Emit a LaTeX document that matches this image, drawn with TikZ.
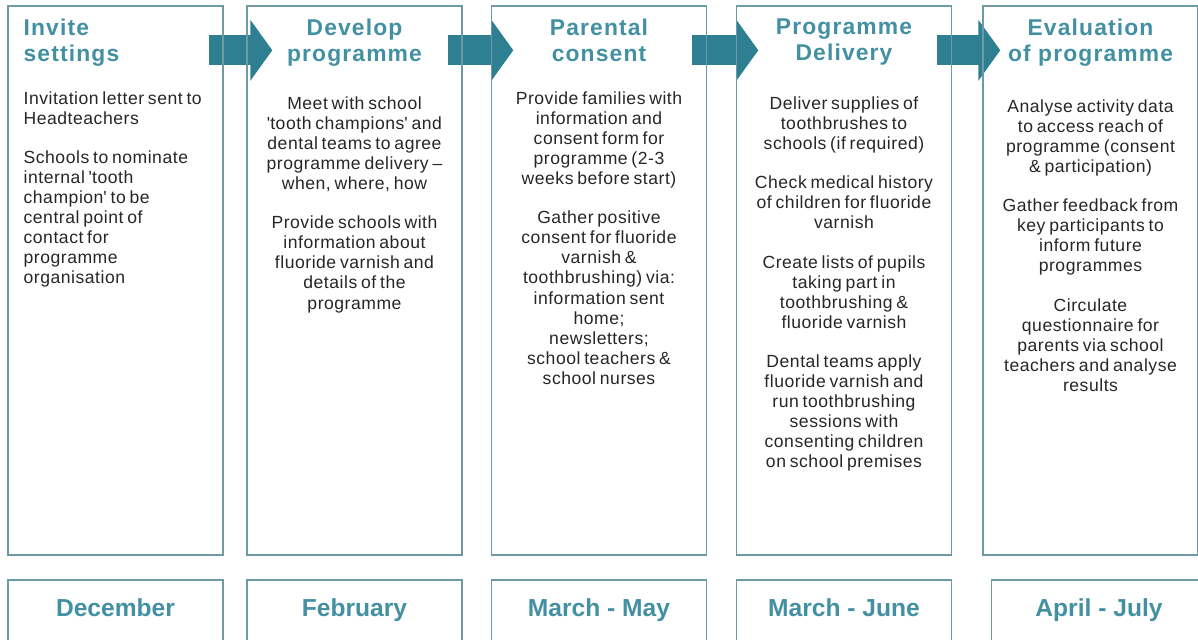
\documentclass[tikz,border=0pt]{standalone}
\usepackage{fontspec}
\setmainfont{Liberation Sans}
\newfontfamily\headfont[LetterSpace=5]{Liberation Sans}
\newfontfamily\taskfont[LetterSpace=3,WordSpace=0.7]{Liberation Sans}
\usetikzlibrary{positioning,calc,arrows.meta,backgrounds}

\definecolor{edge}{HTML}{6E9AA6}
\definecolor{teal}{HTML}{2F7F93}
\definecolor{head}{HTML}{4290A2}
\definecolor{ink}{HTML}{262626}

\begin{document}
\begin{tikzpicture}[
   stage/.style={rectangle,draw=edge,line width=0.8pt,minimum width=4.3cm,
    minimum height=10.98cm,inner sep=0pt},
   month/.style={rectangle,draw=edge,line width=0.8pt,minimum width=4.3cm,
    minimum height=1.22cm,inner sep=0pt,text=head,
    font=\fontsize{14pt}{16pt}\selectfont\bfseries,
    text height=0.35cm,text depth=0.1cm},
   title/.style={inner sep=0pt,text=head,align=center,
    font=\headfont\fontsize{13pt}{14.8pt}\selectfont\bfseries},
   body/.style={inner sep=0pt,text=ink,align=center,
    font=\taskfont\fontsize{10pt}{11.4pt}\selectfont},
   flow/.style={draw=teal,line width=0.6cm,
    -{Triangle[width=1.2cm,length=0.44cm]}}
    ]

    \useasboundingbox (0,0) rectangle (23.96,12.78);

    % Stages:
    \node[stage] at (2.31,7.17) (s1) {};
    \node[stage] at (7.09,7.17) (s2) {};
    \node[stage] at (11.98,7.17) (s3) {};
    \node[stage] at (16.88,7.17) (s4) {};
    \node[stage] at (21.81,7.17) (s5) {};

    % Titles:
    \node[title,align=left,anchor=north west,below right=0.27cm and 0.32cm of s1.north west] (t1) {Invite\\settings};
    \node[title,anchor=north,below=0.27cm of s2.north] (t2) {Develop\\programme};
    \node[title,anchor=north,below=0.27cm of s3.north] (t3) {Parental\\consent};
    \node[title,anchor=north,below=0.27cm of s4.north] (t4) {Programme\\Delivery};
    \node[title,anchor=north,below=0.27cm of s5.north] (t5) {Evaluation\\of programme};

    % Tasks:
    \node[body,align=left,anchor=north west,below right=1.72cm and 0.32cm of s1.north west] (d1)
      {Invitation letter sent to\\Headteachers\\[11pt]
       Schools to nominate\\internal \textquotesingle tooth\\champion\textquotesingle{} to be\\
       central point of\\contact for\\programme\\organisation};
    \node[body,below=1.82cm of s2.north] (d2)
      {Meet with school\\\textquotesingle tooth champions\textquotesingle{} and\\dental teams to agree\\
       programme delivery –\\when, where, how\\[11pt]
       Provide schools with\\information about\\fluoride varnish and\\details of the\\programme};
    \node[body,below=1.72cm of s3.north] (d3)
      {Provide families with\\information and\\consent form for\\programme (2-3\\
       weeks before start)\\[11pt]
       Gather positive\\consent for fluoride\\varnish \&\\toothbrushing) via:\\
       information sent\\home;\\newsletters;\\school teachers \&\\school nurses};
    \node[body,below=1.82cm of s4.north] (d4)
      {Deliver supplies of\\toothbrushes to\\schools (if required)\\[11pt]
       Check medical history\\of children for fluoride\\varnish\\[11pt]
       Create lists of pupils\\taking part in\\toothbrushing \&\\fluoride varnish\\[11pt]
       Dental teams apply\\fluoride varnish and\\run toothbrushing\\sessions with\\
       consenting children\\on school premises};
    \node[body,below=1.88cm of s5.north] (d5)
      {Analyse activity data\\to access reach of\\programme (consent\\\& participation)\\[11pt]
       Gather feedback from\\key participants to\\inform future\\programmes\\[11pt]
       Circulate\\questionnaire for\\parents via school\\teachers and analyse\\results};

    % Months:
    \node[month] at (2.31,0.57) (m1) {December};
    \node[month] at (7.09,0.57) (m2) {February};
    \node[month] at (11.98,0.57) (m3) {March - May};
    \node[month] at (16.88,0.57) (m4) {March - June};
    \node[month] at (21.98,0.57) (m5) {April - July};

    % arrows

    \begin{scope}[on background layer]
    \draw[flow] ($(s1.north east)+(-0.3,-0.9)$) -- ($(s2.north west)+(0.52,-0.9)$);
    \draw[flow] ($(s2.north east)+(-0.3,-0.9)$) -- ($(s3.north west)+(0.45,-0.9)$);
    \draw[flow] ($(s3.north east)+(-0.3,-0.9)$) -- ($(s4.north west)+(0.45,-0.9)$);
    \draw[flow] ($(s4.north east)+(-0.3,-0.9)$) -- ($(s5.north west)+(0.36,-0.9)$);
    \end{scope}

\end{tikzpicture}
\end{document}
